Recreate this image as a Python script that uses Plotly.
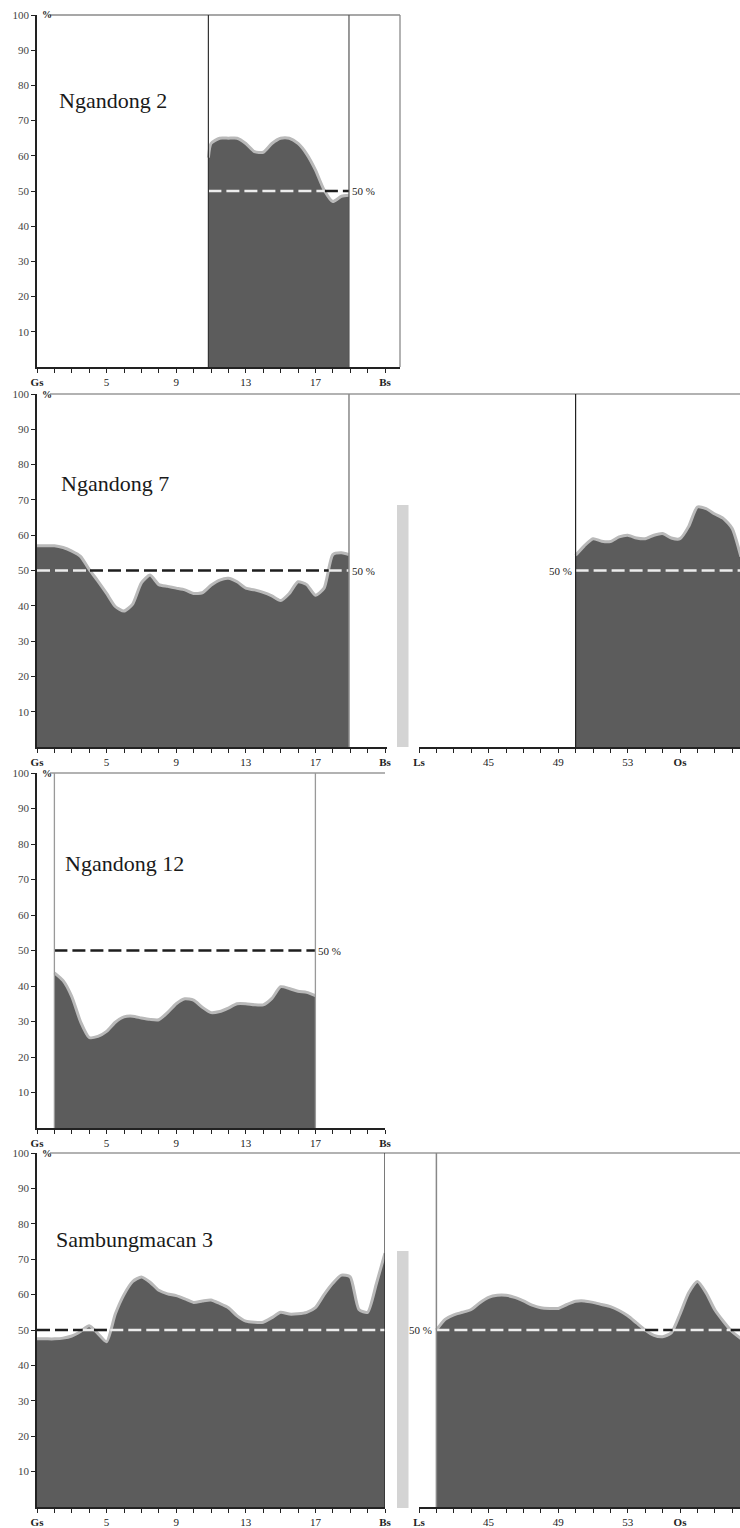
import plotly.graph_objects as go

PAGE_W, PAGE_H = 740, 1528
OFF = 0  # body margin is reset to 0 via post_script below
W, H = PAGE_W - OFF, PAGE_H - OFF

# ---------------- data ----------------
ng2_x = [10.85, 11, 11.5, 12, 12.5, 13, 13.5, 14, 14.5, 15, 15.5, 16, 16.5, 17, 17.5, 18, 18.5, 18.93]
ng2_y = [59.5, 63.5, 65, 65, 65, 63.5, 61.2, 61, 63.5, 65, 65, 63.5, 60.5, 56, 50.3, 47, 48.5, 48.8]

ng7a_x = [1, 1.5, 2, 2.5, 3, 3.5, 4, 4.5, 5, 5.5, 6, 6.5, 7, 7.5, 8, 8.5, 9, 9.5, 10, 10.5,
          11, 11.5, 12, 12.5, 13, 13.5, 14, 14.5, 15, 15.5, 16, 16.5, 17, 17.5, 18, 18.5, 18.93]
ng7a_y = [57, 57, 57, 56.5, 55.5, 54, 50.3, 47, 43.5, 39.8, 38.5, 40.5, 46.5, 48.7, 46, 45.5, 45, 44.5, 43.5, 43.7,
          45.8, 47.3, 47.8, 46.8, 45, 44.5, 43.8, 42.8, 41.5, 43.5, 46.8, 46, 43, 45, 54.5, 55, 54.5]

ng7b_x = [50, 50.5, 51, 51.5, 52, 52.5, 53, 53.5, 54, 54.5, 55, 55.5, 56, 56.5, 57, 57.5, 58, 58.5, 59, 59.5]
ng7b_y = [54.3, 57, 59, 58.3, 58.2, 59.5, 60, 59.2, 59, 60, 60.5, 59.2, 59, 62.5, 68, 67.5, 66, 64.7, 61.9, 53.9]

ng12_x = [2, 2.5, 3, 3.5, 4, 4.5, 5, 5.5, 6, 6.5, 7, 7.5, 8, 8.5, 9, 9.5, 10, 10.5, 11, 11.5,
          12, 12.5, 13, 13.5, 14, 14.5, 15, 15.5, 16, 16.5, 17]
ng12_y = [43.7, 41.5, 37, 30, 25.5, 25.8, 27.2, 29.8, 31.3, 31.5, 31, 30.6, 30.5, 32.5, 35, 36.4, 36, 34, 32.5, 32.8,
          33.8, 35, 35, 34.7, 34.7, 36.5, 39.8, 39.3, 38.5, 38.2, 37.3]

sm3a_x = [1, 1.5, 2, 2.5, 3, 3.5, 4, 4.5, 5, 5.5, 6, 6.5, 7, 7.5, 8, 8.5, 9, 9.5, 10, 10.5,
          11, 11.5, 12, 12.5, 13, 13.5, 14, 14.5, 15, 15.5, 16, 16.5, 17, 17.5, 18, 18.5, 19, 19.5, 20, 20.5, 21]
sm3a_y = [47.5, 47.5, 47.5, 47.7, 48.3, 49.6, 51.2, 49, 46.7, 54.5, 60, 63.7, 65, 63.5, 61.2, 60.2, 59.7, 58.8, 57.8, 58.2,
          58.5, 57.5, 56.3, 54, 52.5, 52.2, 52.2, 53.5, 55, 54.5, 54.6, 55, 56.3, 60, 63.2, 65.5, 65, 55.8, 55, 63, 71.7]

sm3b_x = [42, 42.5, 43, 43.5, 44, 44.5, 45, 45.5, 46, 46.5, 47, 47.5, 48, 48.5, 49, 49.5, 50, 50.5, 51, 51.5,
          52, 52.5, 53, 53.5, 54, 54.5, 55, 55.5, 56, 56.5, 57, 57.5, 58, 58.5, 59, 59.5]
sm3b_y = [50, 53, 54.3, 55, 55.8, 57.7, 59.2, 59.8, 59.8, 59.2, 58.2, 57, 56.3, 56.1, 56.1, 57.2, 58.1, 58.2, 57.8, 57.2,
          56.6, 55.5, 54, 52, 50, 48.5, 48.1, 49.2, 54.5, 60.5, 63.7, 60.5, 55.7, 52.4, 49.5, 47.6]

titles = ["Ngandong 2", "Ngandong 7", "Ngandong 12", "Sambungmacan 3"]
left_ticks = list(range(1, 22))
left_labels = {1: "<b>Gs</b>", 5: "5", 9: "9", 13: "13", 17: "17", 21: "<b>Bs</b>"}
right_ticks = list(range(41, 60))
right_labels = {41: "<b>Ls</b>", 45: "45", 49: "49", 53: "53", 56: "<b>Os</b>"}
y_ticks = list(range(10, 101, 10))
LEVEL = 50

# ---------------- helpers ----------------
def fx(px):
    return (px - OFF) / W

def fy(py):
    return 1 - (py - OFF) / H

SERIF = "Liberation Serif, Times New Roman, serif"
FILL = "#5c5c5c"
EDGE = "#b9b9b9"

fig = go.Figure()

panels = [
    dict(i=1, xpx=(37, 400), ypx=(15, 367), xr=[1, 1 + 363 / 17.4], side="L", data=(ng2_x, ng2_y)),
    dict(i=2, xpx=(37, 387), ypx=(394, 747), xr=[1, 1 + 350 / 17.4], side="L", data=(ng7a_x, ng7a_y)),
    dict(i=3, xpx=(419, 740), ypx=(394, 747), xr=[41, 41 + 321 / 17.4], side="R", data=(ng7b_x, ng7b_y)),
    dict(i=4, xpx=(37, 385), ypx=(773, 1128), xr=[1, 21], side="L", data=(ng12_x, ng12_y)),
    dict(i=5, xpx=(37, 385), ypx=(1153, 1507), xr=[1, 21], side="L", data=(sm3a_x, sm3a_y)),
    dict(i=6, xpx=(419, 740), ypx=(1153, 1507), xr=[41, 41 + 321 / 17.4], side="R", data=(sm3b_x, sm3b_y)),
]


def split_level(xs, ys, level):
    segs = []
    state = ys[0] >= level
    start = xs[0]
    for k in range(len(xs) - 1):
        x0, x1, y0, y1 = xs[k], xs[k + 1], ys[k], ys[k + 1]
        s1 = y1 >= level
        if s1 != state:
            xc = x0 + (level - y0) * (x1 - x0) / (y1 - y0)
            segs.append((start, xc, state))
            start = xc
            state = s1
    segs.append((start, xs[-1], state))
    return segs


layout_axes = {}
for p in panels:
    i = p["i"]
    xs, ys = p["data"]
    xa = "x" if i == 1 else f"x{i}"
    ya = "y" if i == 1 else f"y{i}"
    segs = split_level(xs, ys, LEVEL)
    fig.add_trace(go.Scatter(x=xs, y=ys, xaxis=xa, yaxis=ya, mode="lines", fill="tozeroy",
                             fillcolor=FILL, line=dict(color=EDGE, width=3, shape="spline", smoothing=0.6),
                             hoverinfo="skip", showlegend=False))
    for above, color in [(True, "#ececec"), (False, "#1e1e1e")]:
        lx, ly = [], []
        for a, b, st in segs:
            if st == above:
                lx += [a, b, None]
                ly += [LEVEL, LEVEL, None]
        if lx:
            fig.add_trace(go.Scatter(x=lx, y=ly, xaxis=xa, yaxis=ya, mode="lines",
                                     line=dict(color=color, width=2.6, dash="13px,5px"),
                                     hoverinfo="skip", showlegend=False))

    xkey = "xaxis" if i == 1 else f"xaxis{i}"
    ykey = "yaxis" if i == 1 else f"yaxis{i}"
    if p["side"] == "L":
        tv, tl = left_ticks, [left_labels.get(t, "") for t in left_ticks]
    else:
        tv, tl = right_ticks, [right_labels.get(t, "") for t in right_ticks]
    layout_axes[xkey] = dict(domain=[fx(p["xpx"][0]), min(1, fx(p["xpx"][1]))], range=p["xr"], anchor=ya,
                             showgrid=False, zeroline=False, showline=True, linecolor="#222", linewidth=1.8,
                             ticks="outside", ticklen=4, tickwidth=1.2, tickcolor="#222",
                             tickvals=tv, ticktext=tl, automargin=False,
                             tickfont=dict(family=SERIF, size=11, color="#222"))
    layout_axes[ykey] = dict(domain=[fy(p["ypx"][1]), fy(p["ypx"][0])], range=[0, 100], anchor=xa,
                             showgrid=False, zeroline=False, automargin=False,
                             visible=(p["side"] == "L"), showline=True, linecolor="#222", linewidth=1.8,
                             ticks="outside", ticklen=4, tickwidth=1.2, tickcolor="#222",
                             tickvals=y_ticks, tickfont=dict(family=SERIF, size=11, color="#444"))

fig.update_layout(**layout_axes)

shapes = []
annotations = []

def hline_px(x0, x1, y, color="#999", width=1.5):
    shapes.append(dict(type="line", xref="paper", yref="paper", x0=fx(x0), x1=min(1, fx(x1)), y0=fy(y), y1=fy(y),
                       line=dict(color=color, width=width)))

def vline(ax, x, color, width=1.2):
    xa = "x" if ax == 1 else f"x{ax}"
    ya = "y" if ax == 1 else f"y{ax}"
    shapes.append(dict(type="line", xref=xa, yref=ya, x0=x, x1=x, y0=0, y1=100,
                       line=dict(color=color, width=width)))

# panel frames
hline_px(50, 400, 15, "#8a8a8a", 1.3)
shapes.append(dict(type="line", xref="paper", yref="paper", x0=fx(400), x1=fx(400), y0=fy(15), y1=fy(367),
                   line=dict(color="#8a8a8a", width=1.3)))
vline(1, ng2_x[0], "#333")
vline(1, ng2_x[-1], "#555")

hline_px(50, 740, 394, "#999", 1.6)
vline(2, ng7a_x[-1], "#888", 1.5)
vline(3, ng7b_x[0], "#222")

hline_px(50, 385, 773, "#999", 1.5)
vline(4, ng12_x[0], "#999", 1.3)
vline(4, ng12_x[-1], "#999", 1.3)

hline_px(50, 740, 1153, "#999", 1.6)
vline(5, sm3a_x[-1], "#222")
vline(6, sm3b_x[0], "#888", 1.5)

# gray separators
for (y0, y1) in [(505, 747), (1251, 1508)]:
    shapes.append(dict(type="rect", xref="paper", yref="paper", x0=fx(397), x1=fx(408.5), y0=fy(y1), y1=fy(y0),
                       fillcolor="#d4d4d4", line=dict(width=0), layer="below"))

# titles
for (txt, xpx, ypx) in zip(titles, [57, 59, 63, 54], [101, 483, 863, 1239]):
    annotations.append(dict(text=txt, xref="paper", yref="paper", x=fx(xpx), y=fy(ypx), xanchor="left",
                            yanchor="middle", showarrow=False,
                            font=dict(family=SERIF, size=22, color="#1a1a1a")))

# % marks at top of y axes
for ypx in [15, 394, 773, 1153]:
    annotations.append(dict(text="<b>%</b>", xref="paper", yref="paper", x=fx(40), y=fy(ypx), xanchor="left",
                            yanchor="middle", showarrow=False, font=dict(family=SERIF, size=10, color="#222")))

# 50 % labels
for ax, xval, anchor in [(1, ng2_x[-1], "left"), (2, ng7a_x[-1], "left"), (3, ng7b_x[0], "right"),
                         (4, ng12_x[-1], "left"), (6, sm3b_x[0], "right")]:
    xa = "x" if ax == 1 else f"x{ax}"
    ya = "y" if ax == 1 else f"y{ax}"
    annotations.append(dict(text="50 %", xref=xa, yref=ya, x=xval, y=LEVEL, xanchor=anchor, yanchor="middle",
                            xshift=1 if anchor == "left" else -2, showarrow=False,
                            font=dict(family=SERIF, size=11, color="#222")))

fig.update_layout(width=W, height=H, margin=dict(l=0, r=0, t=0, b=0, autoexpand=False),
                  paper_bgcolor="white", plot_bgcolor="white",
                  shapes=shapes, annotations=annotations, showlegend=False)

fig.write_html("out.html", config={"displayModeBar": False},
               post_script="document.body.style.margin='0';document.body.style.overflow='hidden';")
